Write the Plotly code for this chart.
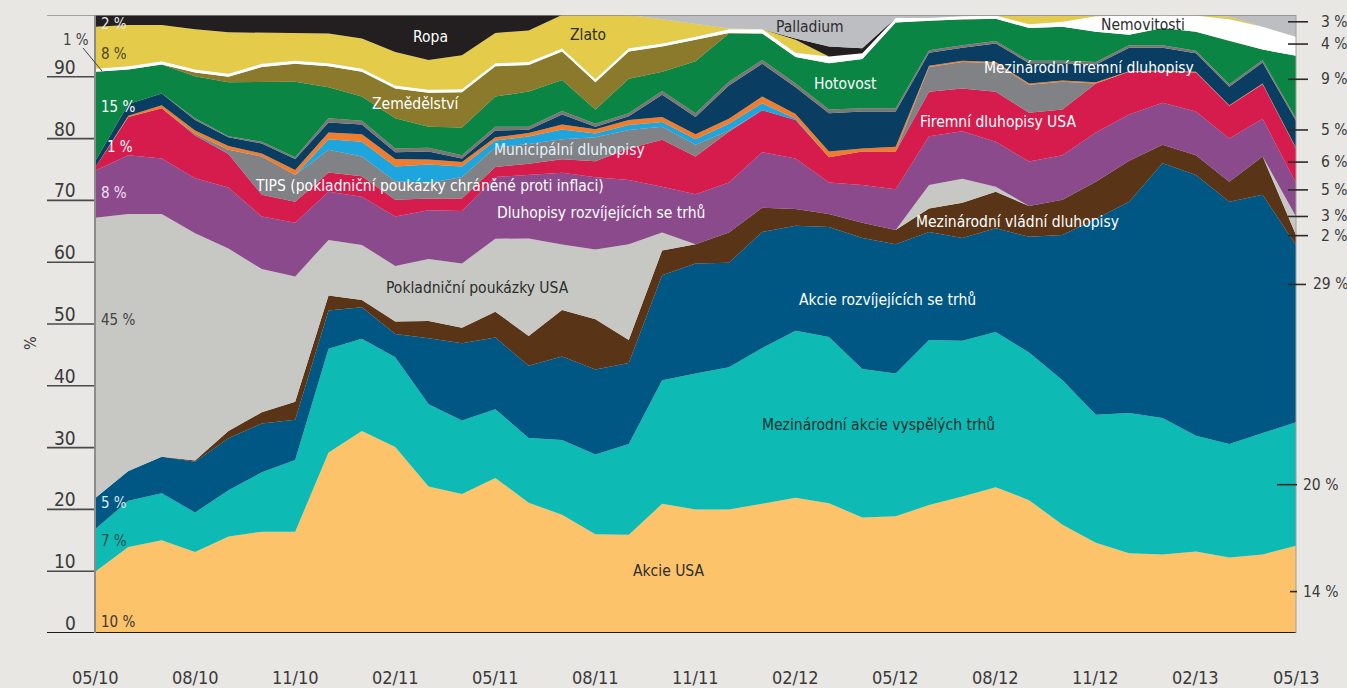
import plotly.graph_objects as go

# ---------------- data ----------------
months = ["05/10", "06/10", "07/10", "08/10", "09/10", "10/10", "11/10", "12/10", "01/11",
          "02/11", "03/11", "04/11", "05/11", "06/11", "07/11", "08/11", "09/11", "10/11",
          "11/11", "12/11", "01/12", "02/12", "03/12", "04/12", "05/12", "06/12", "07/12",
          "08/12", "09/12", "10/12", "11/12", "12/12", "01/13", "02/13", "03/13", "04/13", "05/13"]
tick_labels = ["05/10", "08/10", "11/10", "02/11", "05/11", "08/11", "11/11",
               "02/12", "05/12", "08/12", "11/12", "02/13", "05/13"]

akcie_usa = [9.9, 13.9, 15.0, 13.1, 15.6, 16.4, 16.4, 29.2, 32.7, 30.1, 23.7, 22.5, 25.1, 21.1, 19.1, 16.0, 15.9, 20.9, 20.0,
             20.0, 20.9, 21.9, 21.0, 18.7, 18.9, 20.7, 22.1, 23.6, 21.5, 17.5, 14.6, 12.9, 12.7, 13.2, 12.2, 12.7, 14.1]
akcie_vyspele = [6.9, 7.5, 7.6, 6.4, 7.5, 9.6, 11.6, 16.8, 14.9, 14.5, 13.3, 11.9, 11.1, 10.5, 12.1, 12.9, 14.7, 20.0, 22.0,
                 23.0, 25.2, 27.0, 26.9, 24.0, 23.1, 26.7, 25.2, 25.1, 23.9, 23.4, 20.7, 22.7, 22.1, 18.7, 18.4, 19.6, 20.0]
akcie_em = [5.0, 4.8, 5.9, 8.2, 8.4, 7.9, 6.5, 6.2, 5.1, 3.8, 10.7, 12.5, 11.6, 11.7, 13.5, 13.8, 13.1, 17.0, 17.8,
            16.9, 18.8, 17.0, 17.8, 21.2, 20.9, 17.5, 16.6, 16.8, 18.7, 23.5, 31.7, 34.2, 41.2, 42.2, 39.2, 38.6, 28.7]
vladni_intl = [0, 0, 0, 0.2, 1.2, 1.8, 2.9, 2.4, 1.2, 2.0, 2.8, 2.5, 4.2, 4.8, 7.5, 8.1, 3.7, 4.0, 3.1,
               4.9, 3.9, 2.7, 2.1, 2.5, 2.3, 3.8, 5.7, 5.9, 5.0, 5.7, 6.0, 6.6, 3.0, 3.2, 3.2, 6.2, 1.6]
poukazky_usa = [45.4, 41.6, 39.3, 36.8, 29.5, 23.2, 20.3, 9.0, 8.9, 9.0, 10.0, 10.4, 11.8, 15.8, 10.6, 11.3, 15.5, 2.9, 0,
                0, 0, 0, 0, 0, 0, 3.8, 3.9, 0.8, 0, 0, 0, 0, 0, 0, 0, 0, 3.0]
dluhopisy_em = [7.6, 9.5, 9.0, 8.9, 9.9, 8.5, 8.7, 7.8, 7.8, 8.0, 7.9, 8.5, 10.0, 10.3, 11.6, 11.7, 10.4, 7.4, 8.1,
                8.1, 9.0, 8.2, 5.1, 6.1, 6.6, 7.9, 7.7, 7.3, 7.2, 7.2, 8.0, 7.5, 6.8, 7.1, 7.0, 6.1, 5.4]
firemni_usa = [0.5, 6.2, 8.1, 6.9, 5.4, 3.5, 3.4, 3.1, 3.3, 2.7, 1.9, 2.0, 1.6, 1.8, 2.2, 2.6, 5.1, 7.6, 6.1,
               8.2, 6.8, 6.2, 4.1, 5.4, 6.1, 7.2, 6.9, 8.1, 7.9, 7.4, 7.9, 6.9, 5.1, 6.3, 5.3, 5.6, 5.6]
tips = [0, 0, 0, 0.3, 0.7, 6.2, 4.3, 3.7, 3.2, 3.0, 2.5, 3.5, 3.2, 3.2, 3.2, 3.9, 3.0, 2.1, 1.9,
        0.2, 0, 0, 0, 0, 0, 4.0, 4.3, 4.6, 4.5, 4.5, 0, 0, 0, 0, 0, 0, 0]
municipalni = [0, 0, 0, 0, 0, 0, 0, 1.7, 2.4, 2.4, 3.0, 1.7, 1.1, 1.2, 1.6, 0.6, 0.8, 0.8, 0.9,
               1.1, 1.1, 0.2, 0, 0, 0, 0, 0, 0, 0, 0, 0, 0, 0, 0, 0, 0, 0]
oranzova = [0, 0.2, 0.5, 0.5, 0.6, 0.5, 0.8, 1.1, 1.2, 1.2, 0.8, 0.7, 0.5, 0.6, 0.8, 0.7, 0.8, 0.8, 0.8,
            0.8, 1.1, 0.8, 0.9, 0.5, 0.8, 0.2, 0.2, 0.2, 0.2, 0.2, 0.2, 0.1, 0.1, 0.1, 0.1, 0.1, 0.1]
firemni_intl = [1.0, 1.9, 1.9, 1.7, 1.4, 1.6, 1.8, 1.6, 1.6, 1.1, 1.3, 0.6, 1.1, 0.5, 1.6, 0.4, 0.6, 3.6, 2.8,
                5.4, 5.3, 4.3, 6.2, 6.0, 5.7, 2.1, 2.1, 3.0, 3.3, 2.8, 2.9, 3.8, 3.7, 3.0, 3.0, 3.4, 4.4]
seda_linka = [0, 0, 0, 0.3, 0.2, 0.3, 0.3, 0.7, 0.6, 0.6, 0.6, 0.5, 0.6, 0.5, 0.6, 0.5, 0.5, 0.6, 0.6,
              0.6, 0.6, 0.6, 0.6, 0.5, 0.5, 0.4, 0.4, 0.4, 0.4, 0.4, 0.4, 0.4, 0.4, 0.4, 0.4, 0.4, 0.4]
hotovost = [14.5, 5.6, 4.7, 6.8, 8.7, 9.7, 12.2, 5.0, 3.9, 4.9, 3.4, 4.5, 4.9, 5.7, 5.0, 2.3, 5.6, 3.1, 8.4,
            7.8, 4.3, 4.3, 7.5, 8.0, 13.9, 4.8, 4.2, 3.6, 5.3, 5.5, 4.9, 1.7, 2.8, 3.1, 7.0, 1.7, 10.1]
zemedelstvi = [0, 0, 0, 0.6, 0.9, 2.4, 2.9, 3.4, 4.0, 4.8, 5.5, 5.7, 4.9, 4.3, 4.6, 4.4, 4.4, 4.1, 3.5,
               0.1, 0, 0, 0, 0, 0, 0, 0, 0, 0, 0, 0, 0, 0, 0, 0, 0, 0]
nemovitosti = [0.5, 0.5, 0.5, 0.5, 0.5, 0.5, 0.5, 0.5, 0.5, 0.5, 0.5, 0.5, 0.5, 0.5, 0.5, 0.5, 0.5, 0.5, 0.5,
               0.6, 0.7, 0.7, 1.1, 0.9, 0.7, 0.4, 0.5, 0.5, 0.6, 0.8, 2.5, 3.1, 2.1, 2.6, 3.5, 3.7, 3.1]
zlato = [6.8, 6.7, 5.9, 6.5, 6.7, 5.0, 4.5, 4.8, 4.9, 5.4, 4.8, 5.5, 4.9, 5.1, 5.4, 10.4, 5.4, 3.9, 2.0,
         0.1, 0, 2.1, 0, 0, 0, 0, 0, 0, 1.3, 0.9, 0, 0, 0, 0.1, 0.4, 0, 0]
ropa = [1.9, 1.6, 1.6, 2.3, 2.8, 2.9, 2.9, 3.0, 3.8, 6.0, 7.3, 6.5, 2.9, 2.5, 0, 0, 0, 0, 0,
        0, 0, 0.2, 1.6, 0.8, 0, 0, 0, 0, 0, 0, 0, 0, 0, 0, 0, 0, 0]
palladium = [0, 0, 0, 0, 0, 0, 0, 0, 0, 0, 0, 0, 0, 0, 0, 0, 0, 0.7, 1.5,
             2.2, 2.3, 3.8, 5.1, 5.4, 0.5, 0.5, 0.2, 0.1, 0.2, 0.2, 0.2, 0.1, 0, 0, 0.3, 1.9, 3.5]

series = [
    ("Akcie USA", akcie_usa, "#FCC36A"),
    ("Mezinárodní akcie vyspělých trhů", akcie_vyspele, "#0EBAB4"),
    ("Akcie rozvíjejících se trhů", akcie_em, "#005784"),
    ("Mezinárodní vládní dluhopisy", vladni_intl, "#5A3417"),
    ("Pokladniční poukázky USA", poukazky_usa, "#C7C8C3"),
    ("Dluhopisy rozvíjejících se trhů", dluhopisy_em, "#8A4A8C"),
    ("Firemní dluhopisy USA", firemni_usa, "#D51C4C"),
    ("TIPS", tips, "#818285"),
    ("Municipální dluhopisy", municipalni, "#1EA5DE"),
    ("Ostatní", oranzova, "#F07D2E"),
    ("Mezinárodní firemní dluhopisy", firemni_intl, "#0A3D62"),
    ("Ostatní 2", seda_linka, "#7B7673"),
    ("Hotovost", hotovost, "#0A8544"),
    ("Zemědělství", zemedelstvi, "#8B7A2B"),
    ("Nemovitosti", nemovitosti, "#FFFFFF"),
    ("Zlato", zlato, "#E4CC4A"),
    ("Ropa", ropa, "#231F20"),
    ("Palladium", palladium, "#BDBEC1"),
]

# ---------------- figure ----------------
W, H = 1347, 688
L, R, T, B = 95, 51, 15, 55
PW, PH = W - L - R, H - T - B

def xp(px):
    return (px - L) / PW

def yp(py):
    return (H - B - py) / PH

FONT = "DejaVu Sans Condensed, Liberation Sans Narrow, Arial Narrow, sans-serif"
LBL = 15.5

fig = go.Figure()
for i, (name, vals, col) in enumerate(series):
    fig.add_trace(go.Scatter(
        x=months, y=vals, name=name, mode="lines",
        stackgroup="one", groupnorm="percent" if i == 0 else None,
        line=dict(width=0, color=col), fillcolor=col,
        hovertemplate=name + ": %{y:.1f} %<extra></extra>",
    ))

shapes = []
for v in range(10, 100, 10):
    shapes.append(dict(type="line", xref="paper", yref="y", x0=xp(47), x1=0, y0=v, y1=v,
                       line=dict(color="#4a4a4a", width=1.6)))
shapes.append(dict(type="line", xref="paper", yref="y", x0=xp(47), x1=1, y0=0, y1=0,
                   line=dict(color="#1e1e1e", width=2)))
shapes.append(dict(type="line", xref="paper", yref="y", x0=xp(47), x1=1, y0=100, y1=100,
                   line=dict(color="#8a8a8a", width=1.6)))
shapes.append(dict(type="line", xref="paper", yref="y", x0=0, x1=0, y0=0, y1=100,
                   line=dict(color="#8c8c8c", width=2)))
shapes.append(dict(type="line", xref="paper", yref="y", x0=1, x1=1, y0=0, y1=100,
                   line=dict(color="#a0a0a0", width=1)))

annotations = []
for v in range(0, 100, 10):
    annotations.append(dict(text=str(v), xref="paper", yref="y", x=xp(78), y=v,
                            xanchor="right", yanchor="middle", yshift=10, showarrow=False,
                            font=dict(family=FONT, size=19, color="#3a3a3a")))
annotations.append(dict(text="%", xref="paper", yref="paper", x=xp(30), y=yp(343),
                        textangle=-90, showarrow=False, xanchor="center", yanchor="middle",
                        font=dict(family=FONT, size=16, color="#3a3a3a")))
for t in tick_labels:
    annotations.append(dict(text=t, xref="x", yref="paper", x=t, y=yp(677),
                            xanchor="center", yanchor="middle", showarrow=False,
                            font=dict(family=FONT, size=18, color="#3a3a3a")))

# right-hand end labels (tick from, tick to, text start)
right_labels = ["3 %", "4 %", "9 %", "5 %", "6 %", "5 %", "3 %", "2 %", "29 %", "20 %", "14 %"]
right_pos = [98.9, 95.3, 89.6, 81.4, 76.2, 71.7, 67.4, 64.3, 56.4, 24.0, 6.7]
right_geom = [(1288, 1308, 1319)] * 8 + [(1288, 1306, 1311), (1277, 1297, 1301), (1290, 1297, 1301)]
for lab, v, (a, b, tx) in zip(right_labels, right_pos, right_geom):
    shapes.append(dict(type="line", xref="paper", yref="y", x0=xp(a), x1=xp(b), y0=v, y1=v,
                       line=dict(color="#2a2a2a", width=1.6)))
    annotations.append(dict(text=lab, xref="paper", yref="y", x=xp(tx), y=v,
                            xanchor="left", yanchor="middle", showarrow=False,
                            font=dict(family=FONT, size=15.5, color="#3a3a3a")))

start_labels = [("2 %", 99, 24, "#e6e6e6"), ("8 %", 99, 54, "#4b4425"), ("15 %", 99, 107, "#ffffff"),
                ("1 %", 105, 147, "#ffffff"), ("8 %", 99, 193, "#f3e1f1"), ("45 %", 99, 320, "#444444"),
                ("5 %", 99, 503, "#dce8f0"), ("7 %", 99, 541, "#234e4b"), ("10 %", 99, 622, "#3a3a3a")]
for lab, px, py, col in start_labels:
    annotations.append(dict(text=lab, xref="paper", yref="paper", x=xp(px), y=yp(py),
                            xanchor="left", yanchor="middle", showarrow=False,
                            font=dict(family=FONT, size=15, color=col)))
annotations.append(dict(text="1 %", xref="paper", yref="paper", x=xp(91), y=yp(40),
                        xanchor="right", yanchor="middle", showarrow=False,
                        font=dict(family=FONT, size=15, color="#444444")))
shapes.append(dict(type="line", xref="paper", yref="paper", x0=xp(83), y0=yp(48), x1=xp(102), y1=yp(71),
                   line=dict(color="#444444", width=1)))

series_labels = [
    ("Ropa", 430, 37, "#ffffff"),
    ("Zlato", 588, 35, "#2d2d2d"),
    ("Palladium", 810, 27, "#2d2d2d"),
    ("Nemovitosti", 1143, 25, "#2d2d2d"),
    ("Zemědělství", 416, 104, "#ffffff"),
    ("Hotovost", 845, 84, "#ffffff"),
    ("Mezinárodní firemní dluhopisy", 1089, 68, "#ffffff"),
    ("Municipální dluhopisy", 569, 150, "#e2f2fa"),
    ("Firemní dluhopisy USA", 998, 122, "#ffffff"),
    ("TIPS (pokladniční poukázky chráněné proti inflaci)", 429, 186, "#ffffff"),
    ("Dluhopisy rozvíjejících se trhů", 601, 213, "#ffffff"),
    ("Mezinárodní vládní dluhopisy", 1017, 222, "#ffffff"),
    ("Pokladniční poukázky USA", 477, 288, "#2d2d2d"),
    ("Akcie rozvíjejících se trhů", 887, 300, "#ffffff"),
    ("Mezinárodní akcie vyspělých trhů", 878, 425, "#17302f"),
    ("Akcie USA", 669, 571, "#2d2d2d"),
]
for lab, px, py, col in series_labels:
    annotations.append(dict(text=lab, xref="paper", yref="paper", x=xp(px), y=yp(py),
                            xanchor="center", yanchor="middle", showarrow=False,
                            font=dict(family=FONT, size=LBL, color=col)))

fig.update_layout(
    width=W, height=H,
    margin=dict(l=L, r=R, t=T, b=B, pad=0),
    paper_bgcolor="#E8E7E3", plot_bgcolor="#E8E7E3",
    showlegend=False,
    xaxis=dict(type="category", range=[0, len(months) - 1], showgrid=False, zeroline=False,
               showticklabels=False, showline=False, ticks=""),
    yaxis=dict(range=[0, 100], showgrid=False, zeroline=False, showticklabels=False,
               showline=False, ticks=""),
    shapes=shapes, annotations=annotations,
    font=dict(family=FONT),
)

fig.write_html("out.html", config={"displayModeBar": False},
               post_script="document.body.style.margin='0';document.body.style.overflow='hidden';")
